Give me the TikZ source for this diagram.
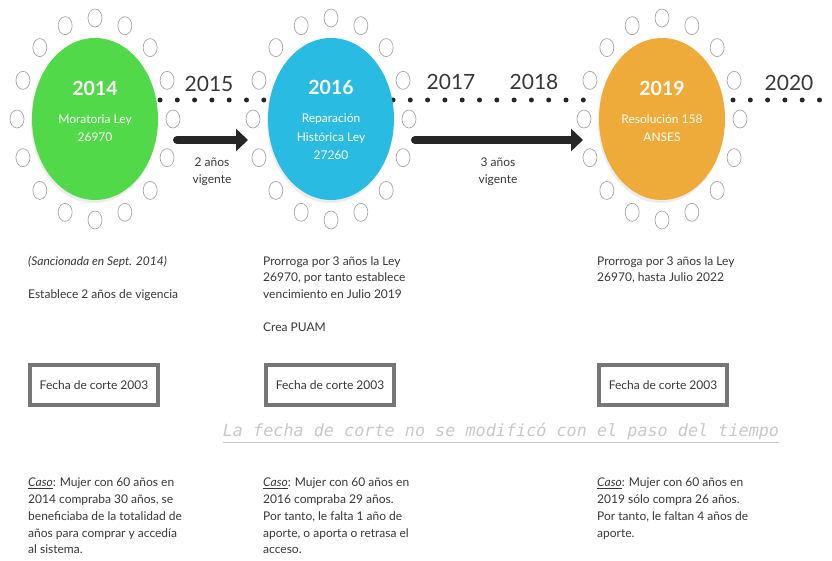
\documentclass[tikz,border=0pt]{standalone}
\usepackage{fontspec}
\setmainfont{Lato}
\setmonofont{DejaVu Sans Mono}
\usetikzlibrary{shapes}
\usetikzlibrary{positioning}
\usetikzlibrary{arrows.meta}
\usetikzlibrary{shadows}
\definecolor{evgreen}{RGB}{82,217,74}
\definecolor{evblue}{RGB}{41,187,226}
\definecolor{evorange}{RGB}{239,171,58}
\definecolor{txtdark}{RGB}{55,55,55}
\definecolor{ringgray}{RGB}{165,165,165}
\definecolor{boxgray}{RGB}{118,118,118}
\definecolor{notegray}{RGB}{200,200,200}
\tikzset{
    evnode/.style = {ellipse, inner sep=0pt, minimum width=126pt, minimum height=162pt, drop shadow={opacity=0.15, shadow xshift=-1pt, shadow yshift=-3pt}},
    evnodeg/.style = {evnode, fill=evgreen},
    evnodeb/.style = {evnode, fill=evblue},
    evnodeo/.style = {evnode, fill=evorange},
    ringnode/.style = {ellipse, draw=ringgray, line width=0.7pt, inner sep=0pt, minimum width=14pt, minimum height=18pt},
    titlenode/.style = {inner sep=0pt, text=white, font=\fontsize{19.5}{22}\selectfont\bfseries},
    infonode/.style = {inner sep=0pt, align=center, text=white, font=\fontsize{12}{18.5}\selectfont},
    yearnode/.style = {inner sep=0pt, text=txtdark, font=\fontsize{21}{24}\selectfont},
    lblnode/.style = {inner sep=0pt, align=center, text=txtdark, font=\fontsize{12}{17}\selectfont},
    txtnode/.style = {inner sep=0pt, anchor=north west, align=left, text=txtdark, font=\fontsize{12}{16.7}\selectfont},
    boxnode/.style = {draw=boxgray, line width=4pt, minimum width=128pt, minimum height=40pt, text=txtdark, font=\fontsize{12}{14}\selectfont},
    notenode/.style = {inner sep=0pt, text=notegray, font=\ttfamily\itshape\fontsize{16.8}{20}\selectfont},
    edgea/.style = {-{Triangle[length=12pt, width=22pt]}, line width=8pt, line cap=round, black!85},
    edged/.style = {line width=5pt, line cap=round, dash pattern=on 0pt off 17.3pt, black!85},
    edgeu/.style = {line width=1pt, notegray}
}
\begin{document}
\begin{tikzpicture}[x=1pt, y=-1pt]
  \useasboundingbox (0,0) rectangle (832,561);
  % dotted time line
  \coordinate (d1s) at (160,100);
  \coordinate (d1e) at (264,100);
  \coordinate (d2s) at (393,100);
  \coordinate (d2e) at (600,100);
  \coordinate (d3s) at (733,100);
  \coordinate (d3e) at (820,100);
  \draw[edged] (d1s) -- (d1e);
  \draw[edged] (d2s) -- (d2e);
  \draw[edged] (d3s) -- (d3e);
  % rings of small ellipses
  \foreach \n/\cx in {g/95,b/331,o/662}{
    \foreach \a [count=\i] in {0,22.5,...,337.5}
      \node[ringnode] (r\n\i) at ({\cx+78*cos(\a)},{119-101*sin(\a)}) {};
  }
  % events
  \node[evnodeg] (e14) at (95,119) {};
  \node[evnodeb] (e16) at (331,119) {};
  \node[evnodeo] (e19) at (662,119) {};
  \node[titlenode] (t14) at (95,88) {2014};
  \node[titlenode] (t16) at (331,87) {2016};
  \node[titlenode] (t19) at (662,88) {2019};
  \node[infonode] (i14) at (95,128) {Moratoria Ley\\26970};
  \node[infonode] (i16) at (331,137) {Reparación\\Histórica Ley\\27260};
  \node[infonode] (i19) at (662,128) {Resolución 158\\ANSES};
  % years
  \node[yearnode] (y15) at (209,84) {2015};
  \node[yearnode] (y17) at (451,82) {2017};
  \node[yearnode] (y18) at (534,82) {2018};
  \node[yearnode] (y20) at (789,83) {2020};
  % arrows
  \coordinate (a1s) at (177,140);
  \coordinate (a1e) at (248,140);
  \coordinate (a2s) at (415,140);
  \coordinate (a2e) at (583,140);
  \draw[edgea] (a1s) -- (a1e);
  \draw[edgea] (a2s) -- (a2e);
  \node[lblnode] (l1) at (212,172) {2 años\\vigente};
  \node[lblnode] (l2) at (498,172) {3 años\\vigente};
  % texts
  \node[txtnode] (s14) at (28,256) {\textit{(Sancionada en Sept. 2014)}};
  \node[txtnode] (v14) at (28,289) {Establece 2 años de vigencia};
  \node[txtnode] (p16) at (263,256) {Prorroga por 3 años la Ley\\26970, por tanto establece\\vencimiento en Julio 2019};
  \node[txtnode] (c16) at (263,323) {Crea PUAM};
  \node[txtnode] (p19) at (597,256) {Prorroga por 3 años la Ley\\26970, hasta Julio 2022};
  % cut-off dates
  \node[boxnode] (f14) at (94,385) {Fecha de corte 2003};
  \node[boxnode] (f16) at (330,385) {Fecha de corte 2003};
  \node[boxnode] (f19) at (663,385) {Fecha de corte 2003};
  \node[notenode] (nota) at (501,432) {La fecha de corte no se modificó con el paso del tiempo};
  \draw[edgeu] ([yshift=-1.5pt]nota.south west) -- ([yshift=-1.5pt]nota.south east);
  % cases
  \node[txtnode] (k14) at (28,478) {\underline{\textit{Caso}}: Mujer con 60 años en\\2014 compraba 30 años, se\\beneficiaba de la totalidad de\\años para comprar y accedía\\al sistema.};
  \node[txtnode] (k16) at (263,478) {\underline{\textit{Caso}}: Mujer con 60 años en\\2016 compraba 29 años.\\Por tanto, le falta 1 año de\\aporte, o aporta o retrasa el\\acceso.};
  \node[txtnode] (k19) at (597,478) {\underline{\textit{Caso}}: Mujer con 60 años en\\2019 sólo compra 26 años.\\Por tanto, le faltan 4 años de\\aporte.};
\end{tikzpicture}
\end{document}
